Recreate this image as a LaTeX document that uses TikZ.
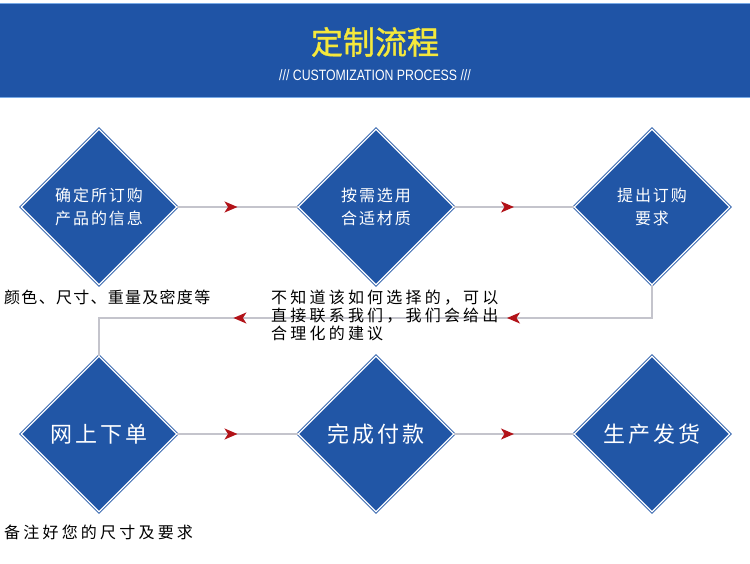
\documentclass[tikz,border=0pt]{standalone}
\usepackage{fontspec}
\usetikzlibrary{shapes.geometric,arrows.meta,decorations.markings}

\setmainfont{Noto Sans CJK SC}
\newfontfamily\cjkbox[LetterSpace=12]{Noto Sans CJK SC}
\newfontfamily\cjkbig[LetterSpace=14]{Noto Sans CJK SC}
\newfontfamily\cjknote[LetterSpace=8]{Noto Sans CJK SC}
\newfontfamily\cjkwide[LetterSpace=20]{Noto Sans CJK SC}
\newfontfamily\cjktitle[FakeBold=1.2]{Noto Sans CJK SC}
\newfontfamily\latinnarrow[FakeStretch=0.82]{Liberation Sans}

\definecolor{bandblue}{RGB}{31,84,166}
\definecolor{bandedge}{RGB}{120,170,230}
\definecolor{boxblue}{RGB}{33,86,166}
\definecolor{titleyellow}{RGB}{245,232,60}
\definecolor{linegray}{RGB}{196,196,204}
\definecolor{tipred}{RGB}{178,18,24}

\tikzset{
  midarrow/.style={postaction={decorate,decoration={markings,
      mark=at position #1 with {\arrow{Stealth[tipred,length=13pt,width=11pt,inset=3.5pt]}}}}},
}

\begin{document}
\begin{tikzpicture}[x=1pt,y=-1pt]
    \useasboundingbox (0,0) rectangle (750,564);
    \fill[white] (0,0) rectangle (750,564);

    % header band
    \path[fill=bandblue,draw=bandedge,line width=1pt] (-2,4) rectangle (752,98);
    \node[text=titleyellow,inner sep=0pt] (title) at (375,42)
        {\cjktitle\fontsize{32}{32}\selectfont 定制流程};
    \node[text=white,inner sep=0pt] (subtitle) at (375,75)
        {\latinnarrow\fontsize{15}{15}\selectfont /// CUSTOMIZATION PROCESS ///};

    \begin{scope}[every node/.style={diamond,aspect=1,minimum width=156,minimum height=156,
                  inner sep=0pt,fill=boxblue,draw=boxblue,double=white,double distance=1.2pt,
                  line width=0.8pt,text=white,align=center}]
        \node[font=\cjkbox\fontsize{16}{23}\selectfont] (A) at (99,207) {确定所订购\\产品的信息};
        \node[font=\cjkbox\fontsize{16}{23}\selectfont] (B) at (376,207) {按需选用\\合适材质};
        \node[font=\cjkbox\fontsize{16}{23}\selectfont] (C) at (652,207) {提出订购\\要求};
        \node[font=\cjkbig\fontsize{22}{22}\selectfont] (D) at (99,434) {网上下单};
        \node[font=\cjkbig\fontsize{22}{22}\selectfont] (E) at (376,434) {完成付款};
        \node[font=\cjkbig\fontsize{22}{22}\selectfont] (F) at (652,434) {生产发货};
    \end{scope}

    \coordinate (c1) at (652,318);
    \coordinate (c2) at (99,318);

    \begin{scope}[every edge/.style={draw=linegray,line width=1.3pt,midarrow=0.5}]
        \path (A) edge (B);
        \path (B) edge (C);
        \path (D) edge (E);
        \path (E) edge (F);
    \end{scope}
    \draw[linegray,line width=1.3pt,midarrow=0.285,midarrow=0.724]
        (C.south) -- (c1) -- (c2) -- (D.north);

    % notes
    \node[anchor=west,inner sep=0pt,font=\cjknote\fontsize{16}{16}\selectfont] (noteA) at (4,297)
        {颜色、尺寸、重量及密度等};
    \node[anchor=north west,align=left,inner sep=0pt,font=\cjkwide\fontsize{16}{18}\selectfont] (noteC) at (271,290)
        {不知道该如何选择的，可以\\直接联系我们，我们会给出\\合理化的建议};
    \node[anchor=west,inner sep=0pt,font=\cjkwide\fontsize{16}{16}\selectfont] (noteD) at (4,532)
        {备注好您的尺寸及要求};
\end{tikzpicture}
\end{document}
